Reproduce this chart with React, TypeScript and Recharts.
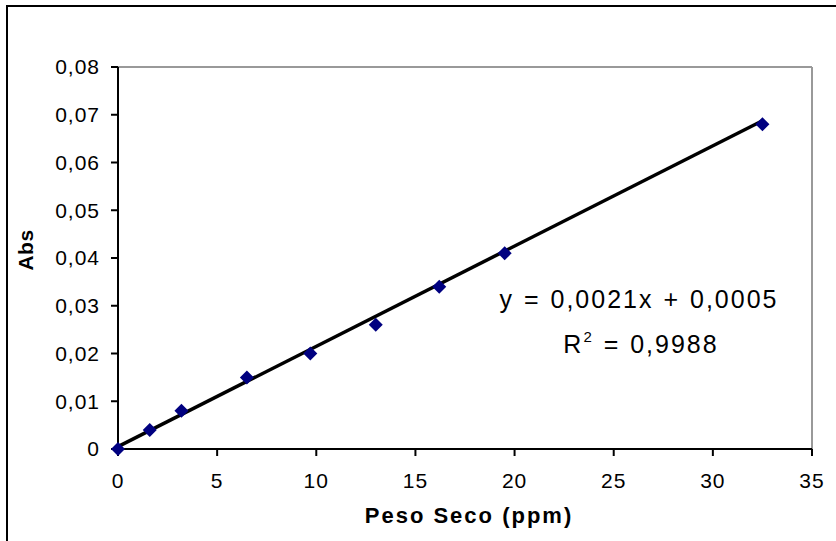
import React from 'react';
import { ScatterChart, Scatter, XAxis, YAxis, ReferenceLine } from 'recharts';

const pesoSeco = [0, 1.6, 3.2, 6.5, 9.7, 13, 16.2, 19.5, 32.5];
const absValues = [0, 0.004, 0.008, 0.015, 0.02, 0.026, 0.034, 0.041, 0.068];
const trendX = [0, 32.5];
const trendY = [0.0005, 0.06875];
const xTicks = [0, 5, 10, 15, 20, 25, 30, 35];
const yTicks = [0, 0.01, 0.02, 0.03, 0.04, 0.05, 0.06, 0.07, 0.08];
const equationText = 'y = 0,0021x + 0,0005';
const r2Text = ' = 0,9988';
const xTitle = 'Peso Seco (ppm)';
const yTitle = 'Abs';

const points = pesoSeco.map((x, i) => ({ x, y: absValues[i] }));
const trend = trendX.map((x, i) => ({ x, y: trendY[i] }));

const FONT = '"Liberation Sans", Arial, sans-serif';

const Diamond = (props: any) => {
  const { cx, cy } = props;
  if (cx == null || cy == null) return <g />;
  const s = 7;
  return (
    <polygon
      points={`${cx},${cy - s} ${cx + s},${cy} ${cx},${cy + s} ${cx - s},${cy}`}
      fill="#000080"
    />
  );
};

const fmtY = (v: number) => (v === 0 ? '0' : v.toFixed(2).replace('.', ','));

const tickStyle = { fontSize: 21, fill: '#000', fontFamily: FONT, letterSpacing: 1 };

export default function App() {
  return (
    <div style={{ position: 'absolute', left: 0, top: 0, width: 836, height: 541, overflow: 'hidden', background: '#fff' }}>
      <div style={{ position: 'absolute', left: 6, top: 5, width: 900, height: 600, borderLeft: '2px solid #000', borderTop: '2px solid #000' }} />
      <div style={{ position: 'absolute', left: 0, top: 0 }}>
        <ScatterChart width={836} height={541} margin={{ top: 67, right: 24, bottom: 0, left: 0 }}>
          <XAxis
            type="number"
            dataKey="x"
            domain={[0, 35]}
            ticks={xTicks}
            height={92}
            tickSize={7}
            tickMargin={17}
            axisLine={{ stroke: '#000', strokeWidth: 2 }}
            tickLine={{ stroke: '#000', strokeWidth: 2 }}
            tick={tickStyle}
            interval={0}
          />
          <YAxis
            type="number"
            dataKey="y"
            domain={[0, 0.08]}
            ticks={yTicks}
            width={118}
            tickSize={7}
            tickMargin={11}
            tickFormatter={fmtY}
            axisLine={{ stroke: '#000', strokeWidth: 2 }}
            tickLine={{ stroke: '#000', strokeWidth: 2 }}
            tick={tickStyle}
            interval={0}
          />
          <ReferenceLine y={0.08} stroke="#999" strokeWidth={2} />
          <ReferenceLine x={35} stroke="#999" strokeWidth={2} />
          <Scatter
            data={trend}
            line={{ stroke: '#000', strokeWidth: 3.5 }}
            shape={() => <g />}
            isAnimationActive={false}
          />
          <Scatter data={points} shape={<Diamond />} isAnimationActive={false} />
        </ScatterChart>
      </div>
      <svg width={836} height={541} style={{ position: 'absolute', left: 0, top: 0, pointerEvents: 'none' }}>
        <text x={639} y={308} textAnchor="middle" fontSize={25} fontFamily={FONT} letterSpacing={2} wordSpacing={1} fill="#000">
          {equationText}
        </text>
        <text x={641} y={353} textAnchor="middle" fontSize={25} fontFamily={FONT} letterSpacing={2} wordSpacing={1} fill="#000">
          R<tspan fontSize={15} dy={-11}>2</tspan><tspan dy={11}>{r2Text}</tspan>
        </text>
        <text x={469} y={523} textAnchor="middle" fontSize={22} fontWeight="bold" fontFamily={FONT} letterSpacing={2} fill="#000">
          {xTitle}
        </text>
        <text x={33} y={250} textAnchor="middle" fontSize={21} fontWeight="bold" fontFamily={FONT} letterSpacing={0.5} fill="#000" transform="rotate(-90, 33, 250)">
          {yTitle}
        </text>
      </svg>
    </div>
  );
}
